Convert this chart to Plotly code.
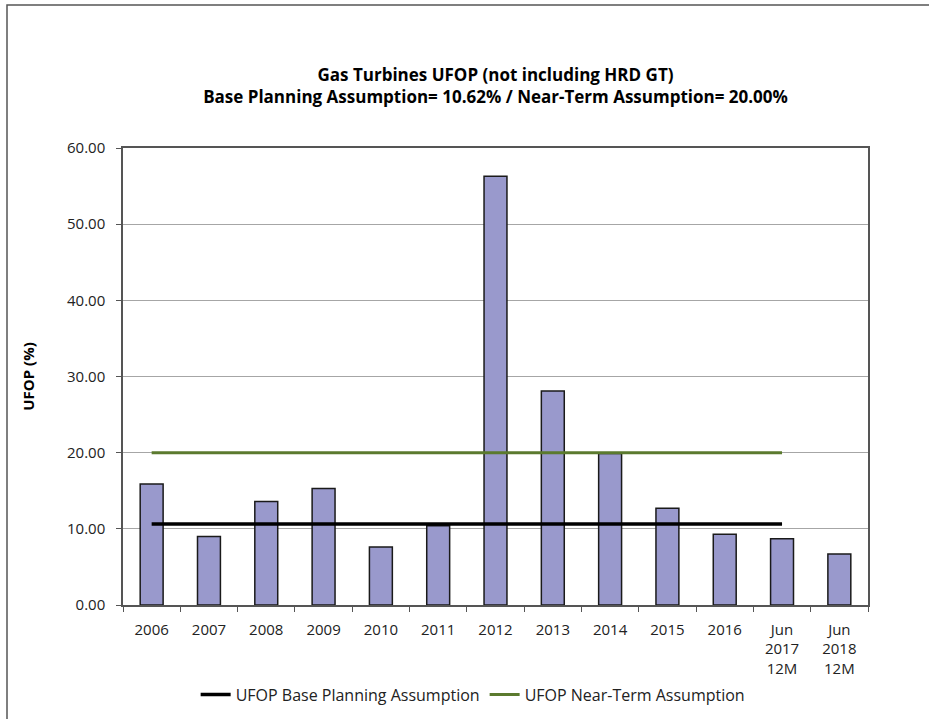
import plotly.graph_objects as go

categories = ["2006", "2007", "2008", "2009", "2010", "2011", "2012", "2013",
              "2014", "2015", "2016", "Jun<br>2017<br>12M", "Jun<br>2018<br>12M"]
ufop_values = [15.9, 9.0, 13.6, 15.3, 7.6, 10.4, 56.3, 28.1, 19.9, 12.7, 9.3, 8.7, 6.7]
base_assumption = [10.62] * 12 + [None]
near_term_assumption = [20.00] * 12 + [None]

FONT = "Open Sans"

fig = go.Figure()
fig.add_trace(go.Bar(
    x=categories, y=ufop_values, width=0.4,
    marker=dict(color="#9999CC", line=dict(color="#1a1a1a", width=1.5)),
    showlegend=False, name="UFOP"))
fig.add_trace(go.Scatter(
    x=categories, y=base_assumption, mode="lines",
    line=dict(color="#000000", width=3.5),
    name="UFOP Base Planning Assumption"))
fig.add_trace(go.Scatter(
    x=categories, y=near_term_assumption, mode="lines",
    line=dict(color="#5B7A2E", width=3),
    name="UFOP Near-Term Assumption"))

fig.update_layout(
    width=929, height=719,
    margin=dict(l=123, r=61, t=148, b=114),
    paper_bgcolor="white", plot_bgcolor="white",
    font=dict(family=FONT, size=15, color="#222222"),
    title=dict(
        text="<b>Gas Turbines UFOP (not including HRD GT)<br>Base Planning Assumption= 10.62% / Near-Term Assumption= 20.00%</b>",
        x=0.5, xanchor="center", xref="paper", y=0.887, yanchor="middle",
        font=dict(family=FONT, size=17, color="#000000")),
    xaxis=dict(
        type="category", showline=True, mirror=True, linecolor="#555555", linewidth=1.5,
        ticks="outside", tickson="boundaries", ticklen=5, tickcolor="#555555",
        ticklabelstandoff=10, automargin=False,
        tickfont=dict(family=FONT, size=15, color="#222222"), showgrid=False),
    yaxis=dict(
        range=[0, 60], dtick=10, tickformat=".2f",
        showline=True, mirror=True, linecolor="#555555", linewidth=1.5,
        ticks="outside", ticklen=5, tickcolor="#555555", ticklabelstandoff=8,
        gridcolor="#A6A6A6", gridwidth=1.2, zeroline=False, automargin=False,
        tickfont=dict(family=FONT, size=15, color="#222222"),
        title=dict(text="<b>UFOP (%)</b>", font=dict(family=FONT, size=15, color="#000000"), standoff=29)),
    legend=dict(orientation="h", x=0.47, xanchor="center",
                yref="container", y=0.034, yanchor="middle",
                font=dict(family=FONT, size=16, color="#222222"), itemwidth=30,
                bgcolor="rgba(0,0,0,0)"),
    bargap=0.6,
)

# outer chart border (left and top edges visible in the reference)
fig.add_shape(type="rect", xref="paper", yref="paper",
              x0=(7 - 123) / 745, x1=(940 - 123) / 745,
              y0=(605 - 730) / 457, y1=(605 - 5) / 457,
              line=dict(color="#555555", width=1.5), layer="below")

fig.write_html("out.html")
